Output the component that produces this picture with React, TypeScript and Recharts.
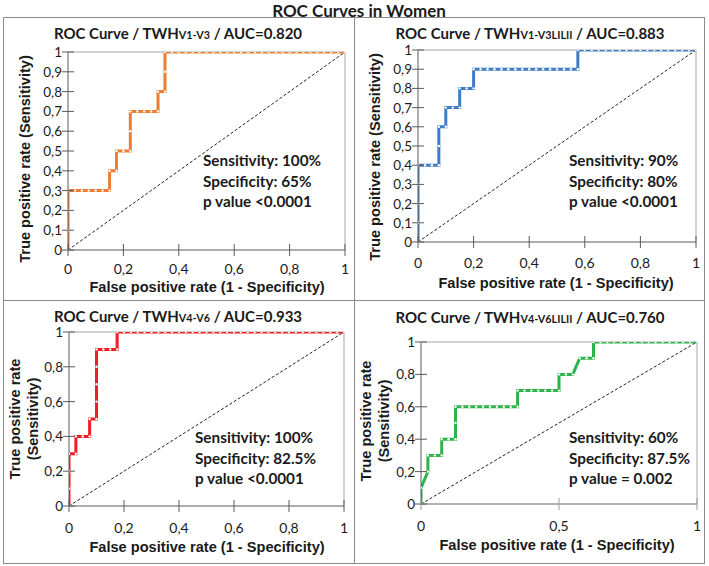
import React from 'react';
import { LineChart, Line, XAxis, YAxis, CartesianGrid } from 'recharts';

// ---------- data ----------
const ticksTenth = [0, 0.1, 0.2, 0.3, 0.4, 0.5, 0.6, 0.7, 0.8, 0.9, 1];
const ticksFifth = [0, 0.2, 0.4, 0.6, 0.8, 1];
const ticksHalf = [0, 0.5, 1];

const diagonal: [number, number][] = [[0, 0], [1, 1]];

const rocV1V3: [number, number][] = [
  [0, 0], [0, 0.1], [0, 0.2], [0, 0.3], [0.025, 0.3], [0.05, 0.3], [0.075, 0.3], [0.1, 0.3], [0.125, 0.3], [0.15, 0.3],
  [0.15, 0.4], [0.175, 0.4], [0.175, 0.5], [0.2, 0.5], [0.225, 0.5], [0.225, 0.6], [0.225, 0.7], [0.25, 0.7], [0.275, 0.7],
  [0.3, 0.7], [0.325, 0.7], [0.325, 0.8], [0.35, 0.8], [0.35, 0.9], [0.35, 1], [0.375, 1], [0.4, 1], [0.425, 1], [0.45, 1],
  [0.475, 1], [0.5, 1], [0.525, 1], [0.55, 1], [0.575, 1], [0.6, 1], [0.625, 1], [0.65, 1], [0.675, 1], [0.7, 1], [0.725, 1],
  [0.75, 1], [0.775, 1], [0.8, 1], [0.825, 1], [0.85, 1], [0.875, 1], [0.9, 1], [0.925, 1], [0.95, 1], [0.975, 1], [1, 1],
];

const rocV1V3LILII: [number, number][] = [
  [0, 0], [0, 0.1], [0, 0.2], [0, 0.3], [0, 0.4], [0.025, 0.4], [0.05, 0.4], [0.075, 0.4], [0.075, 0.5], [0.075, 0.6],
  [0.1, 0.6], [0.1, 0.7], [0.125, 0.7], [0.15, 0.7], [0.15, 0.8], [0.175, 0.8], [0.2, 0.8], [0.2, 0.9], [0.225, 0.9],
  [0.25, 0.9], [0.275, 0.9], [0.3, 0.9], [0.325, 0.9], [0.35, 0.9], [0.375, 0.9], [0.4, 0.9], [0.425, 0.9], [0.45, 0.9],
  [0.475, 0.9], [0.5, 0.9], [0.525, 0.9], [0.55, 0.9], [0.575, 0.9], [0.575, 1], [0.6, 1], [0.625, 1], [0.65, 1],
  [0.675, 1], [0.7, 1], [0.725, 1], [0.75, 1], [0.775, 1], [0.8, 1], [0.825, 1], [0.85, 1], [0.875, 1], [0.9, 1],
  [0.925, 1], [0.95, 1], [0.975, 1], [1, 1],
];

const rocV4V6: [number, number][] = [
  [0, 0], [0, 0.1], [0, 0.2], [0, 0.3], [0.025, 0.3], [0.025, 0.4], [0.05, 0.4], [0.075, 0.4], [0.075, 0.5], [0.1, 0.5],
  [0.1, 0.6], [0.1, 0.7], [0.1, 0.8], [0.1, 0.9], [0.125, 0.9], [0.15, 0.9], [0.175, 0.9], [0.175, 1], [0.2, 1],
  [0.225, 1], [0.25, 1], [0.275, 1], [0.3, 1], [0.325, 1], [0.35, 1], [0.375, 1], [0.4, 1], [0.425, 1], [0.45, 1],
  [0.475, 1], [0.5, 1], [0.525, 1], [0.55, 1], [0.575, 1], [0.6, 1], [0.625, 1], [0.65, 1], [0.675, 1], [0.7, 1],
  [0.725, 1], [0.75, 1], [0.775, 1], [0.8, 1], [0.825, 1], [0.85, 1], [0.875, 1], [0.9, 1], [0.925, 1], [0.95, 1],
  [0.975, 1], [1, 1],
];

const rocV4V6LILII: [number, number][] = [
  [0, 0], [0, 0.1], [0.025, 0.2], [0.025, 0.3], [0.05, 0.3], [0.075, 0.3], [0.075, 0.4], [0.1, 0.4], [0.125, 0.4],
  [0.125, 0.5], [0.125, 0.6], [0.15, 0.6], [0.175, 0.6], [0.2, 0.6], [0.225, 0.6], [0.25, 0.6], [0.275, 0.6], [0.3, 0.6],
  [0.325, 0.6], [0.35, 0.6], [0.35, 0.7], [0.375, 0.7], [0.4, 0.7], [0.425, 0.7], [0.45, 0.7], [0.475, 0.7], [0.5, 0.7],
  [0.5, 0.8], [0.525, 0.8], [0.55, 0.8], [0.575, 0.9], [0.6, 0.9], [0.625, 0.9], [0.625, 1], [0.65, 1], [0.675, 1],
  [0.7, 1], [0.725, 1], [0.75, 1], [0.775, 1], [0.8, 1], [0.825, 1], [0.85, 1], [0.875, 1], [0.9, 1], [0.925, 1],
  [0.95, 1], [0.975, 1], [1, 1],
];

const mainTitle = 'ROC Curves in Women';
const subscripts = ['V1-V3', 'V1-V3LILII', 'V4-V6', 'V4-V6LILII'];
const aucLabels = ['0.820', '0.883', '0.933', '0.760'];
const sensLabels = ['100%', '90%', '100%', '60%'];
const specLabels = ['65%', '80%', '82.5%', '87.5%'];
const pLabels = ['p value <0.0001', 'p value <0.0001', 'p value <0.0001', 'p value = 0.002'];
const xTitle = 'False positive rate (1 - Specificity)';
const yTitleA = 'True positive rate';
const yTitleB = '(Sensitivity)';

// ---------- styles / layout ----------
const CALIBRI = 'Lato, "Open Sans", sans-serif';
const ARIAL = '"Liberation Sans", Arial, sans-serif';
const TXT = '#1a1a1a';
const AXIS = '#5a5a5a';
const FRAME = '#a6a6a6';
const TS = 6;
const YW = 40;
const XH = 30;

const toRows = (pts: [number, number][]) => pts.map(([fpr, tpr]) => ({ fpr, tpr }));
const fmt = (v: number) => String(v).replace('.', ',');

const panels = [
  { pts: rocV1V3, color: '#ED7D31', box: { l: 4, t: 17, w: 350, h: 283 }, plot: { l: 68, t: 52, r: 345, b: 250 },
    yTicks: ticksTenth, xTicks: ticksFifth, title: { x: 178, y: 34 }, ann: { x: 203, y: 150 },
    yLab: { x: 25, y: 159, two: false }, xLab: { x: 207, y: 287 }, xAxisColor: AXIS, tickOff: 18 },
  { pts: rocV1V3LILII, color: '#3F7CC4', box: { l: 354, t: 17, w: 350, h: 283 }, plot: { l: 418, t: 50, r: 696, b: 242 },
    yTicks: ticksTenth, xTicks: ticksFifth, title: { x: 530, y: 34 }, ann: { x: 569, y: 150 },
    yLab: { x: 375, y: 157, two: false }, xLab: { x: 556, y: 283 }, xAxisColor: AXIS, tickOff: 20 },
  { pts: rocV4V6, color: '#F01E23', box: { l: 4, t: 300, w: 350, h: 263 }, plot: { l: 69, t: 332, r: 344, b: 506 },
    yTicks: ticksFifth, xTicks: ticksFifth, title: { x: 178, y: 316.5 }, ann: { x: 195, y: 427 },
    yLab: { x: 24, y: 419, two: true }, xLab: { x: 207, y: 547 }, xAxisColor: AXIS, tickOff: 21 },
  { pts: rocV4V6LILII, color: '#2EB24A', box: { l: 354, t: 300, w: 350, h: 263 }, plot: { l: 421, t: 342, r: 697, b: 504 },
    yTicks: ticksFifth, xTicks: ticksHalf, title: { x: 530, y: 318 }, ann: { x: 569, y: 427 },
    yLab: { x: 375, y: 421, two: true }, xLab: { x: 557, y: 545 }, xAxisColor: '#9a9a9a', tickOff: 21 },
];

const makeXTick = (color: string, off: number) => (props: any) => {
  const { x, y, payload } = props;
  const axisY = y - TS;
  return (
    <g>
      <line x1={x} x2={x} y1={axisY - TS} y2={axisY} stroke={color} strokeWidth={1} />
      <text x={x} y={axisY + off} textAnchor="middle" dominantBaseline="central" fontFamily={CALIBRI} fontSize={14} fill={TXT}>
        {fmt(payload.value)}
      </text>
    </g>
  );
};

const makeYTick = (color: string) => (props: any) => {
  const { x, y, payload } = props;
  const axisX = x + TS;
  return (
    <g>
      <line x1={axisX} x2={axisX + TS} y1={y} y2={y} stroke={color} strokeWidth={1} />
      <text x={axisX - 6} y={y} textAnchor="end" dominantBaseline="central" fontFamily={CALIBRI} fontSize={13.5} fill={TXT}>
        {fmt(payload.value)}
      </text>
    </g>
  );
};

const abs = (x: number, y: number): React.CSSProperties => ({
  position: 'absolute', left: x, top: y, transform: 'translate(-50%, -50%)', whiteSpace: 'nowrap',
});

export default function App() {
  return (
    <div style={{ position: 'absolute', left: 0, top: 0, width: 709, height: 566, background: '#fff', overflow: 'hidden' }}>
      {/* frame */}
      <div style={{ position: 'absolute', left: 3, top: 17, width: 700, height: 545, border: '1px solid #8a8a8a' }} />
      <div style={{ position: 'absolute', left: 354, top: 17, width: 1, height: 546, background: '#8a8a8a' }} />
      <div style={{ position: 'absolute', left: 3, top: 300, width: 701, height: 1, background: '#8a8a8a' }} />

      <div style={{ ...abs(359, 10), fontFamily: CALIBRI, fontWeight: 700, fontSize: 17, lineHeight: '17px', color: TXT }}>{mainTitle}</div>

      {panels.map((p, i) => {
        const margin = {
          left: p.plot.l - p.box.l - YW,
          top: p.plot.t - p.box.t,
          right: p.box.l + p.box.w - p.plot.r,
          bottom: p.box.t + p.box.h - p.plot.b - XH,
        };
        return (
          <React.Fragment key={i}>
            <div style={{ position: 'absolute', left: p.box.l, top: p.box.t }}>
              <LineChart width={p.box.w} height={p.box.h} margin={margin}>
                <CartesianGrid horizontal vertical horizontalValues={[1]} verticalValues={[1]} stroke={FRAME} strokeWidth={1} />
                <XAxis dataKey="fpr" type="number" domain={[0, 1]} ticks={p.xTicks} interval={0} height={XH}
                  tickSize={TS} tickMargin={0} axisLine={{ stroke: p.xAxisColor, strokeWidth: p.xAxisColor === AXIS ? 1 : 1.6 }}
                  tickLine={{ stroke: p.xAxisColor }} tick={makeXTick(p.xAxisColor, p.tickOff)} allowDataOverflow />
                <YAxis dataKey="tpr" type="number" domain={[0, 1]} ticks={p.yTicks} interval={0} width={YW}
                  tickSize={TS} tickMargin={0} axisLine={{ stroke: AXIS }} tickLine={{ stroke: AXIS }}
                  tick={makeYTick(AXIS)} allowDataOverflow />
                <Line data={toRows(diagonal)} dataKey="tpr" type="linear" stroke="#222" strokeWidth={1}
                  strokeDasharray="3 2" dot={false} activeDot={false} isAnimationActive={false} />
                <Line data={toRows(p.pts)} dataKey="tpr" type="linear" stroke={p.color} strokeWidth={3}
                  dot={(d: any) => <circle key={d.index} cx={d.cx} cy={d.cy} r={1.2} fill="#fff" />}
                  activeDot={false} isAnimationActive={false} />
              </LineChart>
            </div>

            <div style={{ ...abs(p.title.x, p.title.y), fontFamily: CALIBRI, fontWeight: 700, fontSize: 15, lineHeight: '13px', color: TXT }}>
              ROC Curve / TWH<span style={{ fontSize: '0.72em' }}>{subscripts[i]}</span> / AUC={aucLabels[i]}
            </div>

            <div style={{ position: 'absolute', left: p.ann.x, top: p.ann.y, fontFamily: CALIBRI, fontWeight: 700,
              fontSize: 15.3, lineHeight: '20.5px', color: TXT, whiteSpace: 'nowrap' }}>
              <div>Sensitivity: {sensLabels[i]}</div>
              <div>Specificity: {specLabels[i]}</div>
              <div>{pLabels[i]}</div>
            </div>

            <div style={{ ...abs(p.xLab.x, p.xLab.y), fontFamily: ARIAL, fontWeight: 700, fontSize: 14.6, color: TXT }}>
              {xTitle}
            </div>

            <div style={{ ...abs(p.yLab.x, p.yLab.y), transform: 'translate(-50%, -50%) rotate(-90deg)',
              fontFamily: ARIAL, fontWeight: 700, fontSize: 14.6, color: TXT, textAlign: 'center',
              lineHeight: p.yLab.two ? '18px' : 'normal' }}>
              {p.yLab.two ? (<><div>{yTitleA}</div><div>{yTitleB}</div></>) : `${yTitleA} ${yTitleB}`}
            </div>
          </React.Fragment>
        );
      })}
    </div>
  );
}
